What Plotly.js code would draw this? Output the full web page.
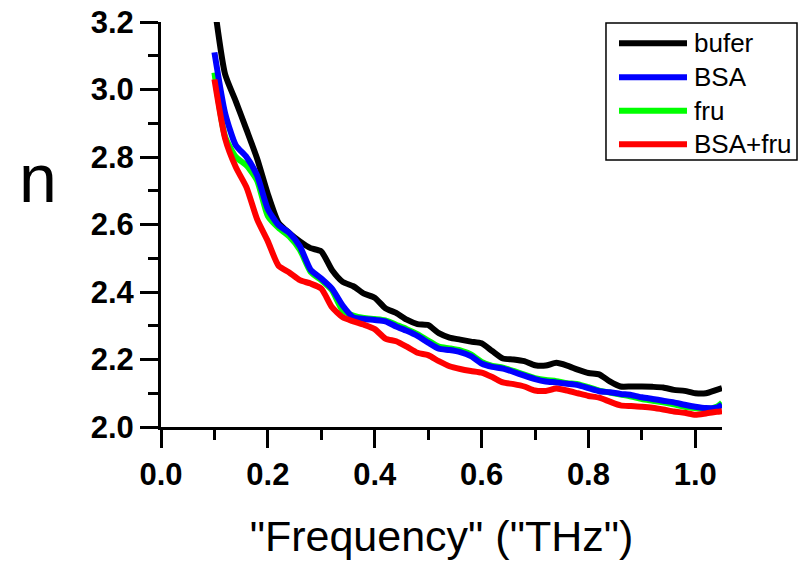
<!DOCTYPE html>
<html>
<head>
<meta charset="utf-8">
<script src="https://cdn.plot.ly/plotly-3.0.1.min.js"></script>
<style>html,body{margin:0;padding:0;background:#fff;}#chart{width:809px;height:564px;}</style>
</head>
<body>
<div id="chart"></div>
<script>
const freq = [0.10,0.12,0.14,0.16,0.18,0.20,0.22,0.24,0.26,0.28,0.30,0.32,0.34,0.36,0.38,0.40,0.42,0.44,0.46,0.48,0.50,0.52,0.54,0.56,0.58,0.60,0.62,0.64,0.66,0.68,0.70,0.72,0.74,0.76,0.78,0.80,0.82,0.84,0.86,0.88,0.90,0.92,0.94,0.96,0.98,1.00,1.02,1.04,1.05];

const bufer = [3.25,3.045,2.965,2.881,2.795,2.69,2.605,2.575,2.55,2.53,2.52,2.465,2.43,2.417,2.395,2.383,2.352,2.338,2.318,2.305,2.302,2.278,2.265,2.259,2.253,2.248,2.225,2.203,2.2,2.195,2.183,2.182,2.19,2.182,2.17,2.16,2.156,2.135,2.12,2.12,2.12,2.119,2.117,2.11,2.107,2.1,2.1,2.11,2.115];

const bsa = [3.11,2.93,2.835,2.80,2.745,2.645,2.598,2.575,2.535,2.466,2.44,2.41,2.36,2.325,2.32,2.317,2.313,2.298,2.285,2.27,2.25,2.232,2.228,2.222,2.21,2.188,2.178,2.173,2.163,2.152,2.142,2.135,2.132,2.128,2.124,2.115,2.106,2.103,2.098,2.095,2.088,2.083,2.078,2.073,2.066,2.06,2.056,2.057,2.066];

const fru = [3.05,2.86,2.80,2.775,2.73,2.625,2.59,2.565,2.525,2.46,2.435,2.405,2.345,2.33,2.323,2.32,2.316,2.303,2.29,2.275,2.256,2.238,2.233,2.227,2.215,2.193,2.181,2.176,2.166,2.155,2.145,2.139,2.136,2.13,2.127,2.118,2.108,2.102,2.096,2.09,2.083,2.078,2.073,2.067,2.06,2.056,2.053,2.06,2.072];

const bsaFru = [3.03,2.855,2.77,2.71,2.615,2.55,2.478,2.458,2.435,2.425,2.41,2.355,2.325,2.313,2.303,2.29,2.262,2.254,2.238,2.22,2.213,2.195,2.18,2.172,2.166,2.161,2.148,2.132,2.127,2.12,2.108,2.107,2.114,2.108,2.1,2.092,2.087,2.075,2.064,2.062,2.06,2.057,2.052,2.046,2.042,2.036,2.04,2.045,2.047];

const seriesNames = ["bufer","BSA","fru","BSA+fru"];
const seriesColors = ["#000000","#0000ff","#00ff00","#ff0000"];
const seriesData = [bufer,bsa,fru,bsaFru];
const drawOrder = [0,2,1,3];

const xTickVals = [0.0,0.2,0.4,0.6,0.8,1.0];
const xTickText = ["0.0","0.2","0.4","0.6","0.8","1.0"];
const yTickVals = [2.0,2.2,2.4,2.6,2.8,3.0,3.2];
const yTickText = ["2.0","2.2","2.4","2.6","2.8","3.0","3.2"];

const FONT = '"Liberation Sans", Arial, sans-serif';

const traces = drawOrder.map(i=>({
  x: freq, y: seriesData[i], type:'scatter', mode:'lines', name: seriesNames[i],
  line:{color: seriesColors[i], width: 6, shape:'spline', smoothing:0.6},
  showlegend:false
}));

// hand-built legend box (paper coordinates of the plot area)
const legX0 = 0.7932, legX1 = 1.1337, legY0 = 0.6593, legY1 = 0.9975;
const legLineX0 = 0.8164, legLineX1 = 0.9376, legTextX = 0.9465;
const legRows = [0.9474, 0.8635, 0.781, 0.698];

const shapes = [{type:'rect', xref:'paper', yref:'paper', x0:legX0, x1:legX1, y0:legY0, y1:legY1,
  line:{color:'#000', width:1.5}, fillcolor:'#fff', layer:'above'}];
const annotations = [];
seriesNames.forEach((name,i)=>{
  shapes.push({type:'line', xref:'paper', yref:'paper', x0:legLineX0, x1:legLineX1, y0:legRows[i], y1:legRows[i],
    line:{color:seriesColors[i], width:6}, layer:'above'});
  annotations.push({xref:'paper', yref:'paper', x:legTextX, y:legRows[i], xanchor:'left', yanchor:'middle',
    text:name, showarrow:false, font:{family:FONT, size:26, color:'#000'}});
});
annotations.push({xref:'paper', yref:'paper', x:-0.219, y:0.615, xanchor:'center', yanchor:'middle',
  text:'n', showarrow:false, font:{family:FONT, size:68, color:'#000'}});

const tickFont = {family:FONT, size:31, color:'#000', weight:'bold'};

const layout = {
  width:809, height:564,
  margin:{l:161, r:87, t:22, b:137},
  paper_bgcolor:'#fff', plot_bgcolor:'#fff',
  showlegend:false,
  shapes: shapes,
  annotations: annotations,
  xaxis:{range:[0,1.05], tickvals:xTickVals, ticktext:xTickText, ticks:'outside', ticklen:18, tickwidth:3,
    tickcolor:'#000', showline:true, linecolor:'#000', linewidth:3, showgrid:false, zeroline:false,
    tickfont:tickFont,
    minor:{dtick:0.1, ticks:'outside', ticklen:10, tickwidth:3, tickcolor:'#000', showgrid:false},
    title:{text:'"Frequency" ("THz")', standoff:30, font:{family:FONT, size:43, color:'#000'}}},
  yaxis:{range:[2.0,3.2], tickvals:yTickVals, ticktext:yTickText, ticks:'outside', ticklen:18, tickwidth:3,
    tickcolor:'#000', showline:true, linecolor:'#000', linewidth:3, showgrid:false, zeroline:false,
    tickfont:tickFont,
    minor:{dtick:0.1, ticks:'outside', ticklen:10, tickwidth:3, tickcolor:'#000', showgrid:false}}
};

Plotly.newPlot('chart', traces, layout, {displayModeBar:false, staticPlot:true});
</script>
</body>
</html>
